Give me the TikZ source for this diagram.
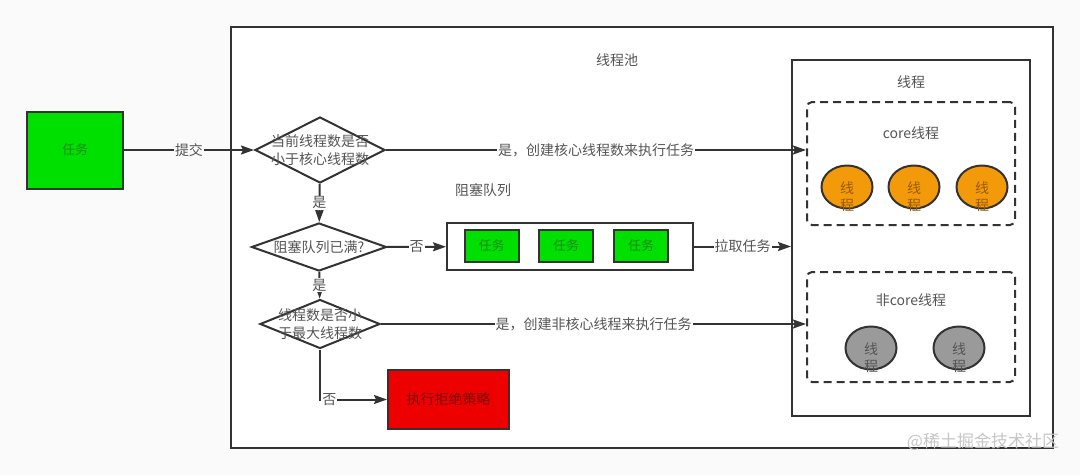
\documentclass[tikz,border=0pt]{standalone}
\usepackage{fontspec}
\setmainfont{Noto Sans CJK SC}
\usetikzlibrary{shapes.geometric,arrows.meta}
\definecolor{bgcol}{HTML}{FAFAFA}
\definecolor{linecol}{HTML}{333333}
\definecolor{textcol}{HTML}{555555}
\definecolor{taskgreen}{HTML}{00E000}
\definecolor{taskgreentext}{HTML}{1A8A1A}
\definecolor{rejectred}{HTML}{EE0000}
\definecolor{rejecttext}{HTML}{7A0A0A}
\definecolor{coreorange}{HTML}{F39A0B}
\definecolor{coretext}{HTML}{9A5A00}
\definecolor{extragray}{HTML}{9A9A9A}
\begin{document}
\begin{tikzpicture}[x=1pt, y=-1pt,
  every node/.style={align=center, font=\fontsize{14}{18}\selectfont, text=textcol},
  frame/.style={draw=linecol, line width=2pt, inner sep=0pt},
  group/.style={draw=linecol, line width=2pt, dash pattern=on 8pt off 5pt, rounded corners=5pt, inner sep=0pt, minimum width=208pt},
  decision/.style={diamond, draw=linecol, line width=2pt, fill=white, inner sep=0pt},
  taskbox/.style={frame, fill=taskgreen, text=taskgreentext, font=\fontsize{13}{16}\selectfont},
  worker/.style={ellipse, draw=linecol, line width=2pt, inner sep=0pt, minimum width=51pt, minimum height=43pt},
  flow/.style={draw=linecol, line width=2pt, -{Stealth[length=13pt,width=9pt,inset=2pt]}},
  tag/.style={fill=white, inner sep=1pt}]
  \useasboundingbox (0,0) rectangle (1080,475);
  \fill[bgcol] (0,0) rectangle (1080,475);

  % pool and thread area
  \node[frame, fill=white, minimum width=822pt, minimum height=421pt] (pool) at (642,237.5) {};
  \node at (617,60) {线程池};
  \node[frame, minimum width=238pt, minimum height=356pt] (threads) at (911,238) {};
  \node at (911,82) {线程};
  \node[group, minimum height=123pt] (core) at (911,163.5) {};
  \node at (911,133) {core线程};
  \node[group, minimum height=110pt] (extra) at (911,327) {};
  \node at (911,300) {非core线程};

  % worker threads
  \foreach \cx [count=\i] in {847,914,982}
    \node[worker, fill=coreorange, label={[text=coretext, font=\fontsize{14}{17}\selectfont, yshift=-10pt]center:线\\程}] (c\i) at (\cx,187) {};
  \foreach \cx [count=\i] in {871,959}
    \node[worker, fill=extragray, label={[text=textcol, font=\fontsize{14}{17}\selectfont, yshift=-10pt]center:线\\程}] (e\i) at (\cx,348) {};

  % incoming task
  \node[taskbox, minimum width=96pt, minimum height=77pt] (task) at (75,150) {任务};

  % decisions
  \node[decision, minimum width=130pt, minimum height=66pt, label={center:当前线程数是否\\小于核心线程数}] (d1) at (320,150) {};
  \node[decision, minimum width=135pt, minimum height=48pt, label={center:阻塞队列已满?}] (d2) at (319,247) {};
  \node[decision, minimum width=120pt, minimum height=49pt, label={center:线程数是否小\\于最大线程数}] (d3) at (320,324) {};

  % blocking queue
  \node[frame, minimum width=246pt, minimum height=47pt] (queue) at (570,246.5) {};
  \node at (483,190) {阻塞队列};
  \foreach \qx [count=\i] in {491.5,566,641}
    \node[taskbox, minimum width=54pt, minimum height=32pt] (q\i) at (\qx,246) {任务};

  % reject
  \node[frame, fill=rejectred, text=rejecttext, minimum width=121pt, minimum height=59pt] (reject) at (448.5,399.5) {执行拒绝策略};

  % connectors
  \draw[flow] (task) -- node[tag, fill=bgcol] {提交} (d1);
  \draw[flow] (d1) -- node[tag] {是，创建核心线程数来执行任务} (d1 -| core.west);
  \draw[flow] (d1) -- node[tag] {是} (d2);
  \draw[flow] (d2) -- node[tag] {否} (queue);
  \draw[flow] (queue) -- node[tag] {拉取任务} (queue -| threads.west);
  \draw[flow] (d2) -- node[tag] {是} (d3);
  \draw[flow] (d3.east) -- node[tag] {是，创建非核心线程来执行任务} (d3.east -| extra.west);
  \draw[flow] (d3) |- node[tag, pos=0.57] {否} (reject);

  \node[text=gray!45, font=\fontsize{17}{20}\selectfont] (mark) at (983,442) {@稀土掘金技术社区};
\end{tikzpicture}
\end{document}
